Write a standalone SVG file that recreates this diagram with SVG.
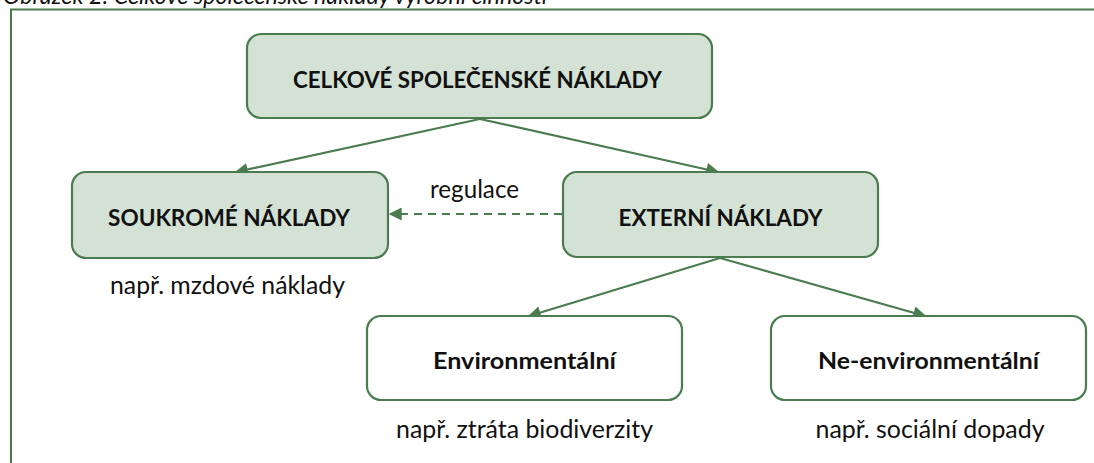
<svg xmlns="http://www.w3.org/2000/svg" width="1094" height="463" viewBox="0 0 1094 463">
<defs>
<style>
.box{stroke:#4a7c4f;stroke-width:2.2}
.fill{fill:#d4e2d5}
.white{fill:#ffffff}
.b{font-family:Lato,"Liberation Sans",sans-serif;font-weight:bold;font-size:23.5px;fill:#111;text-anchor:middle}
.t{font-family:Lato,"Liberation Sans",sans-serif;font-size:24.5px;fill:#111;text-anchor:middle}
.conn{stroke:#4a7c4f;stroke-width:2.2;fill:none}
</style>
<marker id="ah" viewBox="0 0 10 10" refX="9" refY="5" markerWidth="17" markerHeight="13" markerUnits="userSpaceOnUse" orient="auto">
<path d="M0,0 L10,5 L0,10 z" fill="#4a7c4f"/>
</marker>
</defs>
<rect width="1094" height="463" fill="#ffffff"/>
<text x="3" y="4" font-family="Lato,'Liberation Sans',sans-serif" font-style="italic" font-size="23.5" fill="#111" textLength="544" lengthAdjust="spacingAndGlyphs">Obrázek 2: Celkové společenské náklady výrobní činnosti</text>
<rect x="11" y="9.5" width="1100" height="470" fill="none" stroke="#4a7c4f" stroke-width="2"/>
<g id="connectors">
<line class="conn" x1="480" y1="119" x2="236" y2="172" marker-end="url(#ah)"/>
<line class="conn" x1="480" y1="119" x2="718" y2="172" marker-end="url(#ah)"/>
<line class="conn" x1="720" y1="258" x2="529" y2="316" marker-end="url(#ah)"/>
<line class="conn" x1="720" y1="258" x2="925" y2="316" marker-end="url(#ah)"/>
<line class="conn" x1="562" y1="214" x2="390" y2="214" stroke-dasharray="8,6" marker-end="url(#ah)"/>
<text class="t" x="474.5" y="198" textLength="89" lengthAdjust="spacingAndGlyphs">regulace</text>
</g>
<g id="celkove">
<rect class="box fill" x="247" y="34" width="465" height="84" rx="14"/>
<text class="b" x="477.5" y="88" textLength="369" lengthAdjust="spacingAndGlyphs">CELKOVÉ SPOLEČENSKÉ NÁKLADY</text>
</g>
<g id="soukrome">
<rect class="box fill" x="72" y="172" width="316" height="86" rx="14"/>
<text class="b" x="229" y="226" textLength="242" lengthAdjust="spacingAndGlyphs">SOUKROMÉ NÁKLADY</text>
<text class="t" x="227.5" y="294" textLength="235" lengthAdjust="spacingAndGlyphs">např. mzdové náklady</text>
</g>
<g id="externi">
<rect class="box fill" x="563" y="172" width="315" height="85" rx="14"/>
<text class="b" x="720.5" y="226" textLength="204" lengthAdjust="spacingAndGlyphs">EXTERNÍ NÁKLADY</text>
</g>
<g id="environmentalni">
<rect class="box white" x="367" y="316" width="315" height="84" rx="14"/>
<text class="b" x="524.5" y="369" textLength="183" lengthAdjust="spacingAndGlyphs">Environmentální</text>
<text class="t" x="524.5" y="438" textLength="257" lengthAdjust="spacingAndGlyphs">např. ztráta biodiverzity</text>
</g>
<g id="neenvironmentalni">
<rect class="box white" x="771" y="316" width="315" height="84" rx="14"/>
<text class="b" x="928.5" y="369" textLength="221" lengthAdjust="spacingAndGlyphs">Ne-environmentální</text>
<text class="t" x="930" y="438" textLength="229" lengthAdjust="spacingAndGlyphs">např. sociální dopady</text>
</g>
</svg>
